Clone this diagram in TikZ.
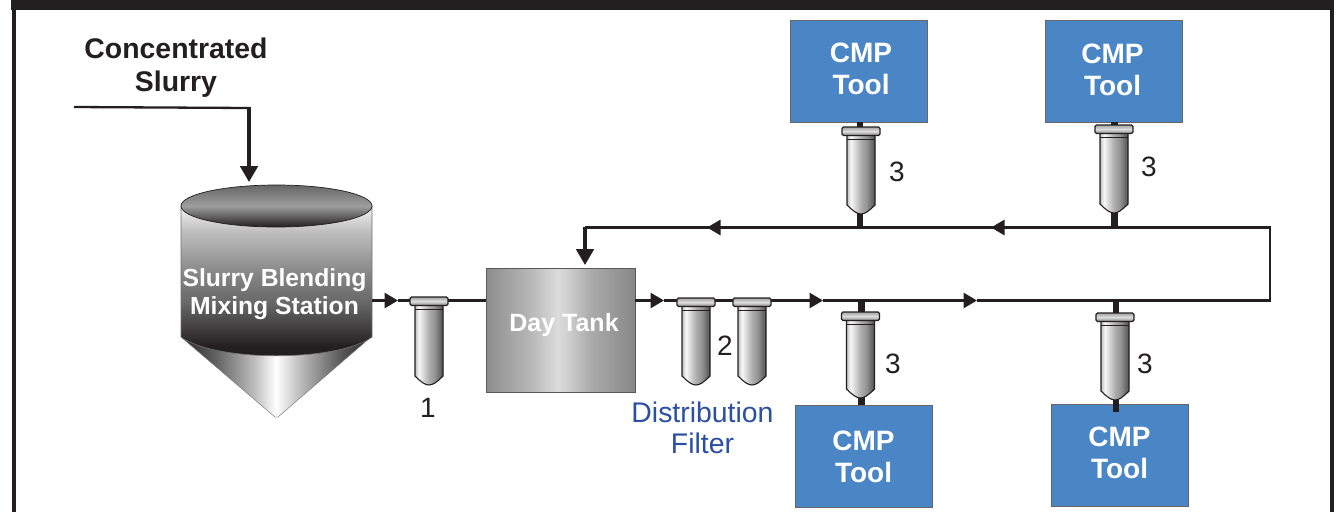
\documentclass[tikz,border=0pt]{standalone}
\usepackage{fontspec}
\setmainfont{Liberation Sans}
\usetikzlibrary{arrows.meta,calc}
\definecolor{ink}{HTML}{231F20}
\definecolor{toolblue}{HTML}{4A86C5}
\definecolor{labelblue}{HTML}{2B4FA2}
\pgfdeclarehorizontalshading{filterbody}{100bp}{
 color(0bp)=(black!25); color(25bp)=(black!25); color(32bp)=(black!3); color(50bp)=(black!32); color(60bp)=(black!42); color(75bp)=(black!68); color(100bp)=(black!68)}
\pgfdeclareverticalshading{capv}{100bp}{
 color(0bp)=(black!50); color(25bp)=(black!50); color(50bp)=(black!12); color(62bp)=(black!25); color(75bp)=(black!35); color(100bp)=(black!35)}
\pgfdeclareverticalshading{tankbody}{100bp}{
 color(0bp)=(ink); color(30bp)=(ink); color(43.7bp)=(black!60); color(53.7bp)=(black!47); color(67bp)=(black!25); color(75bp)=(black!5); color(100bp)=(black!5)}
\pgfdeclareverticalshading{tanklid}{100bp}{
 color(0bp)=(ink); color(25bp)=(ink); color(50bp)=(black!38); color(75bp)=(black!60); color(100bp)=(black!60)}
\pgfdeclarehorizontalshading{coneshade}{100bp}{
 color(0bp)=(black!85); color(25bp)=(black!85); color(34bp)=(black!62); color(44.5bp)=(black!25); color(50bp)=(white); color(56bp)=(black!25); color(67bp)=(black!65); color(75bp)=(black!85); color(100bp)=(black!85)}
\pgfdeclarehorizontalshading{dayshade}{100bp}{
 color(0bp)=(black!45); color(25bp)=(black!45); color(40bp)=(black!28); color(49bp)=(black!14); color(52bp)=(black!18); color(60bp)=(black!33); color(75bp)=(black!47); color(100bp)=(black!47)}
\tikzset{
 x=1pt,y=-1pt,
 pipe/.style={draw=ink,line width=2.8pt},
 thinpipe/.style={draw=ink,line width=2.3pt},
 stub/.style={draw=ink,line width=6.5pt},
 flow/.style={pipe,-{Triangle[length=13.5pt,width=15pt]}},
 bigflow/.style={draw=ink,line width=3.4pt,-{Triangle[length=16pt,width=17.5pt]}},
 toolbox/.style={draw=black!60,line width=.8pt,fill=toolblue,minimum width=137pt,minimum height=102pt,inner sep=0pt},
 toollabel/.style={text=white,font=\bfseries\fontsize{28}{32}\selectfont,align=center,inner sep=0pt},
 num/.style={text=ink,font=\fontsize{28}{28}\selectfont,inner sep=0pt},
 tanklabel/.style={text=white,font=\bfseries\fontsize{24.7}{27.5}\selectfont,align=center,inner sep=0pt},
}
% \filterunit{name}{cx}{top}{bottom}
\newcommand{\filterunit}[4]{%
 \path[draw=ink,line width=1.1pt,shading=filterbody]
   (#2-14,#3+6) -- (#2+14,#3+6) -- (#2+14,#4-9)
   .. controls (#2+8,#4-3) and (#2+4,#4) .. (#2,#4)
   .. controls (#2-4,#4) and (#2-8,#4-3) .. (#2-14,#4-9) -- cycle;
 \path[draw=ink,line width=.8pt] (#2-14,#3+12) -- (#2+14,#3+12);
 \path[draw=ink,line width=1.1pt,shading=capv,rounded corners=1.5pt]
   (#2-19,#3) rectangle (#2+19,#3+8.5);
 \coordinate (#1) at (#2,#3+4);
 \coordinate (#1top) at (#2,#3);
 \coordinate (#1bot) at (#2,#4);
}
\begin{document}
\begin{tikzpicture}
\useasboundingbox (0,0) rectangle (1337,512);
\fill[white] (0,0) rectangle (1337,512);
% frame
\fill[ink] (11,0) rectangle (1334,9.5);
\fill[ink] (11.5,0) rectangle (15.5,512);
\fill[ink] (1329.5,0) rectangle (1334,512);
% tank
\path[shading=coneshade,draw=black!50,line width=.5pt] (181,337) -- (371,337) -- (278,417) -- (275,417) -- cycle;
\path[shading=tankbody,draw=black!55,line width=.6pt]
  (181,206) -- (181,337) .. controls (215,362) and (338,362) .. (372,337) -- (372,206) -- cycle;
\path[shading=tanklid,draw=ink,line width=.7pt] (276.5,206) ellipse [x radius=95.5,y radius=21];
\node[tanklabel] (tank) at (274.5,294) {Slurry Blending\\Mixing Station};
\coordinate (tankout) at (372,300.5);
% day tank
\node[draw=black!65,line width=.6pt,minimum width=149pt,minimum height=124pt,inner sep=0pt,shading=dayshade] (day) at (560.5,330) {};
\node[text=white,font=\bfseries\fontsize{25}{29}\selectfont,inner sep=0pt] (daylabel) at (564,325) {Day Tank};
% pipes
\coordinate (a1) at (398,300.5);
\coordinate (a2) at (664,300.5);
\coordinate (a3) at (823,300.5);
\coordinate (a4) at (977,300.5);
\coordinate (corner1) at (1270,300.5);
\coordinate (corner2) at (1270,227.5);
\coordinate (a5) at (991,227.5);
\coordinate (a6) at (707,227.5);
\coordinate (turn) at (585,227.5);
\coordinate (daytop) at (585,265);
\coordinate (feed) at (74,107);
\coordinate (feedturn) at (249,108);
\coordinate (feedend) at (249,182);
\draw[thinpipe,line join=miter] (feed) -- (feedturn) -- (249,125);
\draw[bigflow] (249,107) -- (feedend);
\draw[flow] (tankout) -- (a1);
\draw[pipe] (a1) -- (486,300.5);
\draw[flow] (635,300.5) -- (a2);
\draw[pipe] (a2) -- (811,300.5);
\draw[flow] (811,300.5) -- (a3);
\draw[pipe] (a3) -- (965,300.5);
\draw[flow] (965,300.5) -- (a4);
\draw[thinpipe,line width=2.5pt] (a4) -- (1268,300.5);
\draw[pipe,line join=miter] (1200,300.5) -- (corner1) -- (corner2) -- (1100,227.5);
\draw[pipe] (1100,227.5) -- (a5);
\draw[flow] (1005,227.5) -- (a5);
\draw[pipe] (a5) -- (a6);
\draw[flow] (722,227.5) -- (a6);
\draw[thinpipe,line join=miter] (a6) -- (turn);
\draw[bigflow] (585,226.5) -- (daytop);
% tools
\node[toolbox] (t1) at (858.5,71) {};
\node[toolbox] (t2) at (1113.5,71) {};
\node[toolbox] (t3) at (863.5,456) {};
\node[toolbox] (t4) at (1119.5,455) {};
\node[toollabel] (l1) at (861,68.5) {CMP\\Tool};
\node[toollabel] (l2) at (1112.5,70) {CMP\\Tool};
\node[toollabel] (l3) at (863.5,456.5) {CMP\\Tool};
\node[toollabel] (l4) at (1119.5,452.5) {CMP\\Tool};
% stubs
\draw[stub] (860,122) -- (860,228);
\draw[stub] (1114.5,122) -- (1114.5,228);
\draw[stub] (861.5,300) -- (861.5,405);
\draw[stub] (1116,300) -- (1116,412);
% filters
\filterunit{f1}{429}{297}{385}
\filterunit{f2}{696}{298}{385}
\filterunit{f2b}{752}{298}{385}
\filterunit{f3}{861}{127}{214}
\filterunit{f4}{1114}{125}{213}
\filterunit{f5}{860.5}{312}{398}
\filterunit{f6}{1115}{313}{400}
% labels
\node[num] (n1) at (428,408) {1};
\node[num] (n2) at (725,346) {2};
\node[num] (n3a) at (897,172) {3};
\node[num] (n3b) at (1149,167) {3};
\node[num] (n3c) at (893,364) {3};
\node[num] (n3d) at (1145,364) {3};
\node[text=labelblue,font=\fontsize{28.4}{31}\selectfont,align=center,inner sep=0pt] (dist) at (702.5,428) {Distribution\\Filter};
\node[text=ink,font=\bfseries\fontsize{28.4}{33}\selectfont,align=center,inner sep=0pt] (conc) at (176,68) {Concentrated\\Slurry};
\end{tikzpicture}
\end{document}
